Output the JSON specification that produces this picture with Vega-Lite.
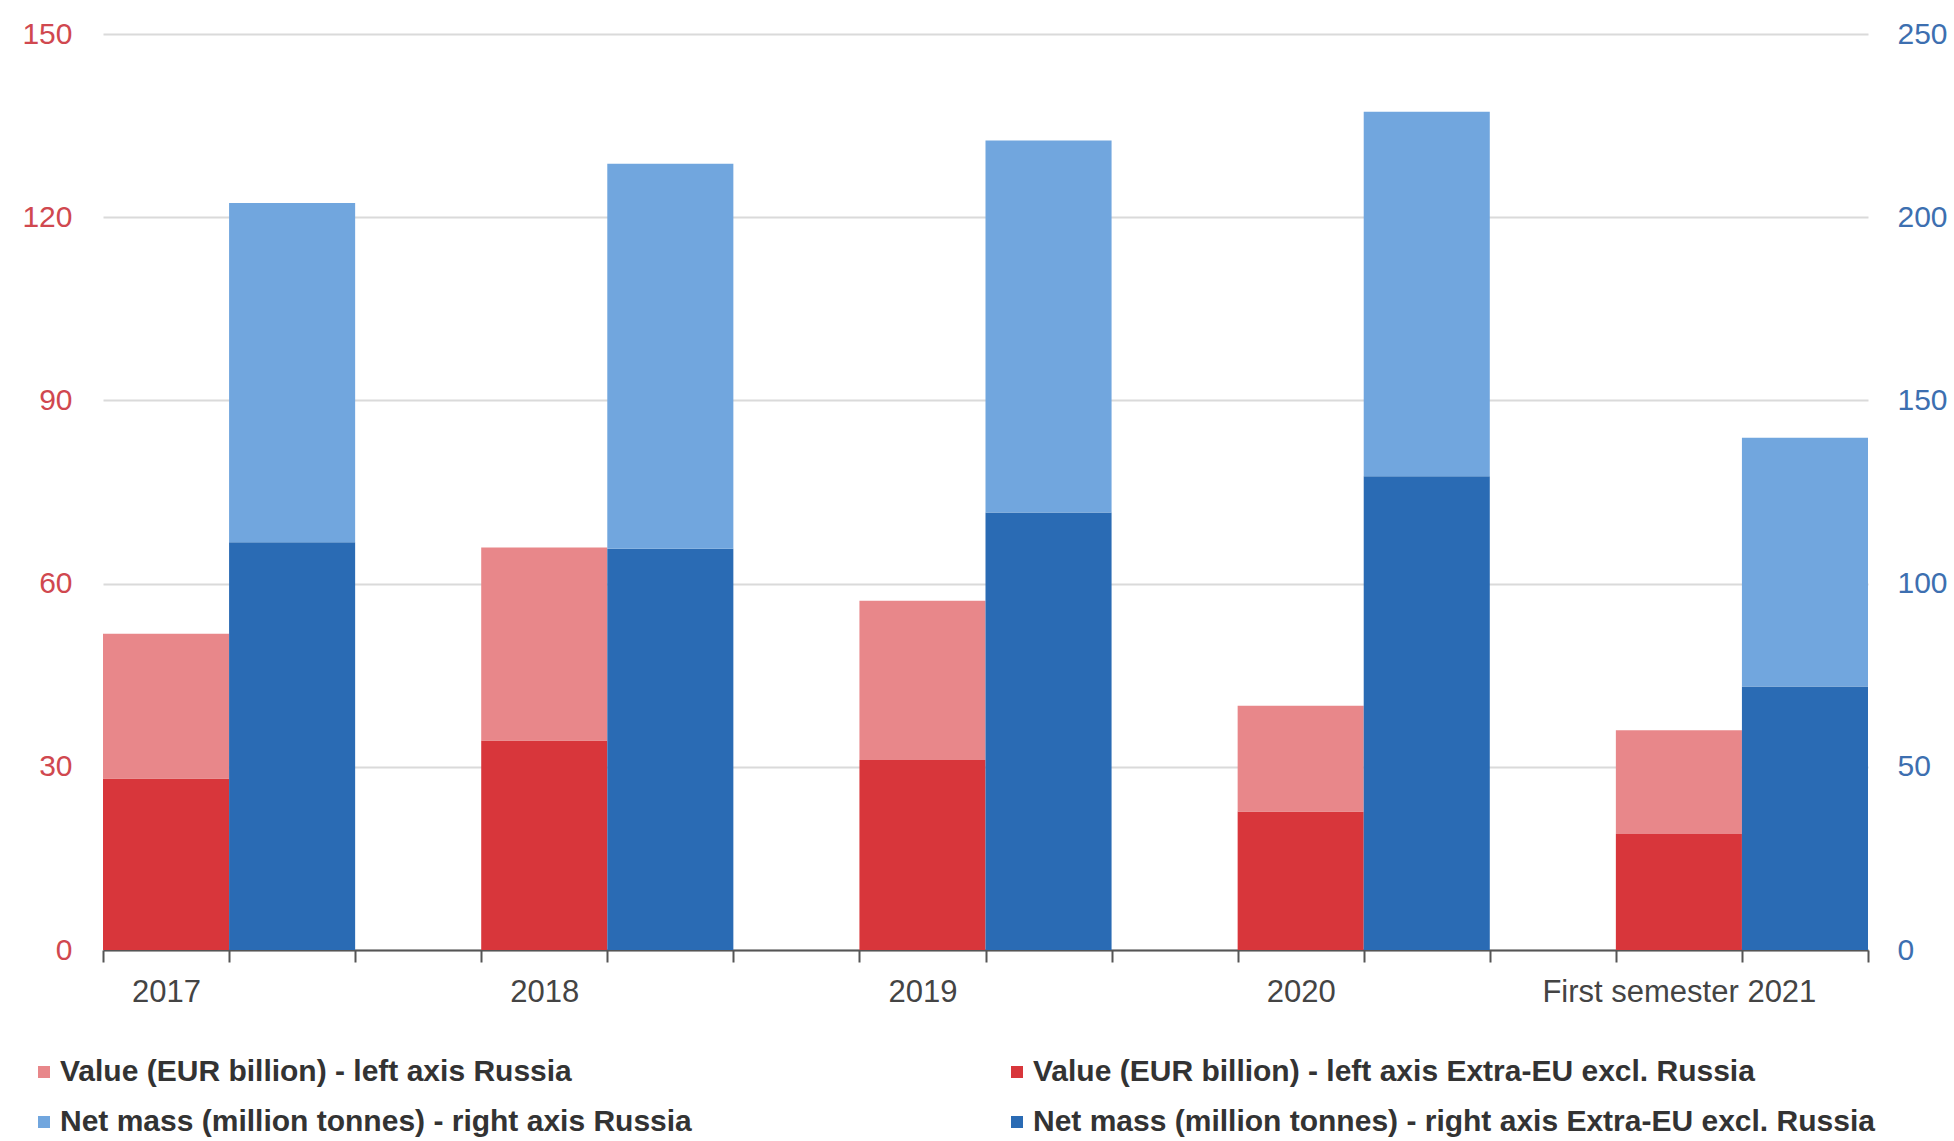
{
  "$schema": "https://vega.github.io/schema/vega-lite/v6.json",
  "width": 1765,
  "height": 916,
  "autosize": {"type": "none"},
  "padding": {"left": 103, "top": 34, "right": 86, "bottom": 191},
  "background": "white",
  "config": {
    "view": {"stroke": null},
    "font": "Liberation Sans",
    "axis": {"labelFont": "Liberation Sans", "title": null}
  },
  "data": {
    "values": [
      {"period": "2017", "measure": "value", "origin": "Extra-EU excl. Russia", "series": "Value (EUR billion) - left axis Extra-EU excl. Russia", "amount": 28.1},
      {"period": "2017", "measure": "value", "origin": "Russia", "series": "Value (EUR billion) - left axis Russia", "amount": 23.7},
      {"period": "2018", "measure": "value", "origin": "Extra-EU excl. Russia", "series": "Value (EUR billion) - left axis Extra-EU excl. Russia", "amount": 34.3},
      {"period": "2018", "measure": "value", "origin": "Russia", "series": "Value (EUR billion) - left axis Russia", "amount": 31.6},
      {"period": "2019", "measure": "value", "origin": "Extra-EU excl. Russia", "series": "Value (EUR billion) - left axis Extra-EU excl. Russia", "amount": 31.1},
      {"period": "2019", "measure": "value", "origin": "Russia", "series": "Value (EUR billion) - left axis Russia", "amount": 26.1},
      {"period": "2020", "measure": "value", "origin": "Extra-EU excl. Russia", "series": "Value (EUR billion) - left axis Extra-EU excl. Russia", "amount": 22.7},
      {"period": "2020", "measure": "value", "origin": "Russia", "series": "Value (EUR billion) - left axis Russia", "amount": 17.3},
      {"period": "First semester 2021", "measure": "value", "origin": "Extra-EU excl. Russia", "series": "Value (EUR billion) - left axis Extra-EU excl. Russia", "amount": 19.0},
      {"period": "First semester 2021", "measure": "value", "origin": "Russia", "series": "Value (EUR billion) - left axis Russia", "amount": 17.0},
      {"period": "2017", "measure": "mass", "origin": "Extra-EU excl. Russia", "series": "Net mass (million tonnes) - right axis Extra-EU excl. Russia", "amount": 111.3},
      {"period": "2017", "measure": "mass", "origin": "Russia", "series": "Net mass (million tonnes) - right axis Russia", "amount": 92.6},
      {"period": "2018", "measure": "mass", "origin": "Extra-EU excl. Russia", "series": "Net mass (million tonnes) - right axis Extra-EU excl. Russia", "amount": 109.5},
      {"period": "2018", "measure": "mass", "origin": "Russia", "series": "Net mass (million tonnes) - right axis Russia", "amount": 105.1},
      {"period": "2019", "measure": "mass", "origin": "Extra-EU excl. Russia", "series": "Net mass (million tonnes) - right axis Extra-EU excl. Russia", "amount": 119.4},
      {"period": "2019", "measure": "mass", "origin": "Russia", "series": "Net mass (million tonnes) - right axis Russia", "amount": 101.5},
      {"period": "2020", "measure": "mass", "origin": "Extra-EU excl. Russia", "series": "Net mass (million tonnes) - right axis Extra-EU excl. Russia", "amount": 129.3},
      {"period": "2020", "measure": "mass", "origin": "Russia", "series": "Net mass (million tonnes) - right axis Russia", "amount": 99.5},
      {"period": "First semester 2021", "measure": "mass", "origin": "Extra-EU excl. Russia", "series": "Net mass (million tonnes) - right axis Extra-EU excl. Russia", "amount": 71.9},
      {"period": "First semester 2021", "measure": "mass", "origin": "Russia", "series": "Net mass (million tonnes) - right axis Russia", "amount": 67.9}
    ]
  },
  "transform": [
    {"calculate": "datum.period + '|' + datum.measure", "as": "slot"}
  ],
  "encoding": {
    "x": {
      "field": "slot",
      "type": "nominal",
      "scale": {
        "domain": [
          "2017|value", "2017|mass", "2017|gap",
          "2018|value", "2018|mass", "2018|gap",
          "2019|value", "2019|mass", "2019|gap",
          "2020|value", "2020|mass", "2020|gap",
          "First semester 2021|value", "First semester 2021|mass"
        ],
        "paddingInner": 0,
        "paddingOuter": 0
      },
      "axis": {
        "labelExpr": "split(datum.value, '|')[1] === 'value' ? split(datum.value, '|')[0] : ''",
        "labelAngle": 0,
        "labelOverlap": false,
        "labelFontSize": 31,
        "labelColor": "#444444",
        "labelPadding": 15,
        "labelLimit": 600,
        "tickBand": "extent",
        "tickSize": 12,
        "tickWidth": 2,
        "tickColor": "#555555",
        "domainColor": "#555555",
        "domainWidth": 2,
        "grid": false
      }
    }
  },
  "layer": [
    {
      "transform": [{"filter": "datum.measure === 'value'"}],
      "mark": {"type": "bar"},
      "encoding": {
        "y": {
          "field": "amount",
          "type": "quantitative",
          "stack": "zero",
          "scale": {"domain": [0, 150], "nice": false},
          "axis": {
            "orient": "left",
            "values": [0, 30, 60, 90, 120, 150],
            "domain": false,
            "ticks": false,
            "labelPadding": 31,
            "labelFontSize": 30,
            "labelColor": "#d0484f",
            "grid": true,
            "gridColor": "#dadada",
            "gridWidth": 2
          }
        },
        "color": {
          "field": "series",
          "type": "nominal",
          "scale": {
            "domain": [
              "Value (EUR billion) - left axis Russia",
              "Net mass (million tonnes) - right axis Russia",
              "Value (EUR billion) - left axis Extra-EU excl. Russia",
              "Net mass (million tonnes) - right axis Extra-EU excl. Russia"
            ],
            "range": ["#e8878a", "#71a6de", "#d8363b", "#2a6bb4"]
          },
          "legend": {
            "orient": "none",
            "legendX": -74,
            "legendY": 1023,
            "columns": 2,
            "columnPadding": 310,
            "rowPadding": 20,
            "title": null,
            "symbolType": "square",
            "symbolSize": 144,
            "symbolStrokeWidth": 0,
            "labelOffset": 1,
            "labelFontSize": 30,
            "labelFontWeight": "bold",
            "labelColor": "#333333",
            "labelLimit": 1200
          }
        },
        "order": {"field": "origin", "sort": "ascending"}
      }
    },
    {
      "transform": [{"filter": "datum.measure === 'mass'"}],
      "mark": {"type": "bar"},
      "encoding": {
        "y": {
          "field": "amount",
          "type": "quantitative",
          "stack": "zero",
          "scale": {"domain": [0, 250], "nice": false},
          "axis": {
            "orient": "right",
            "values": [0, 50, 100, 150, 200, 250],
            "domain": false,
            "ticks": false,
            "labelPadding": 29,
            "labelFontSize": 30,
            "labelColor": "#3d6fb0",
            "grid": false
          }
        },
        "color": {"field": "series", "type": "nominal"},
        "order": {"field": "origin", "sort": "ascending"}
      }
    }
  ],
  "resolve": {"scale": {"y": "independent"}}
}
